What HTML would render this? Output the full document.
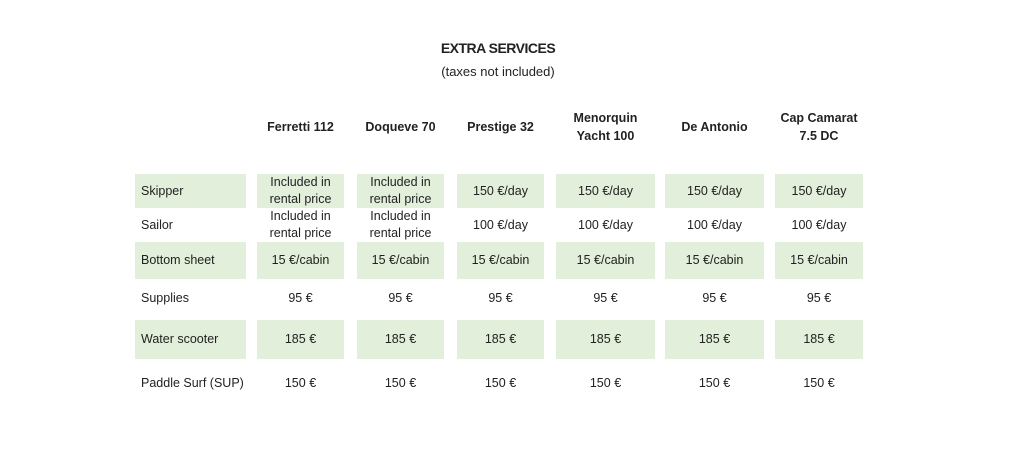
<!DOCTYPE html>
<html><head><meta charset="utf-8"><style>
body{margin:0;width:1024px;height:449px;background:#fff;font-family:"Liberation Sans",sans-serif;color:#222;position:relative;overflow:hidden}
.a{position:absolute;display:flex;align-items:center;justify-content:center;text-align:center;font-size:12.5px;line-height:17px}
.g{background:#e2efda}
.h{font-weight:bold;font-size:12.5px;line-height:18px}
.l{justify-content:flex-start;padding-left:6px;box-sizing:border-box}
</style></head><body>
<div class="a h" style="left:398px;top:38px;width:200px;height:20px;font-size:14px;letter-spacing:-0.5px">EXTRA SERVICES</div>
<div class="a" style="left:398px;top:62px;width:200px;height:18px;font-size:13px">(taxes not included)</div>
<div id="t"></div>
<script>
const cols=[[257,344],[357,444],[457,544],[556,655],[665,764],[775,863]];
const headers=["Ferretti 112","Doqueve 70","Prestige 32","Menorquin<br>Yacht 100","De Antonio","Cap Camarat<br>7.5 DC"];
const rows=[
 ["Skipper",174,208,true,["Included in<br>rental price","Included in<br>rental price","150 €/day","150 €/day","150 €/day","150 €/day"]],
 ["Sailor",208,242,false,["Included in<br>rental price","Included in<br>rental price","100 €/day","100 €/day","100 €/day","100 €/day"]],
 ["Bottom sheet",242,279,true,["15 €/cabin","15 €/cabin","15 €/cabin","15 €/cabin","15 €/cabin","15 €/cabin"]],
 ["Supplies",280,316,false,["95 €","95 €","95 €","95 €","95 €","95 €"]],
 ["Water scooter",320,359,true,["185 €","185 €","185 €","185 €","185 €","185 €"]],
 ["Paddle Surf (SUP)",366,400,false,["150 €","150 €","150 €","150 €","150 €","150 €"]]
];
const t=document.getElementById('t');
function box(x,y,w,h,cls,html){const d=document.createElement('div');d.className='a '+cls;d.style.cssText=`left:${x}px;top:${y}px;width:${w}px;height:${h}px`;d.innerHTML=html;t.appendChild(d);return d;}
headers.forEach((hd,i)=>{const d=box(cols[i][0]-5,107,cols[i][1]-cols[i][0]+10,40,'h',hd);

});
rows.forEach(r=>{const [lab,y0,y1,g,vals]=r;
const l=box(135,y0,111,y1-y0,'l'+(g?' g':''),lab);


vals.forEach((v,i)=>{const c=box(cols[i][0],y0,cols[i][1]-cols[i][0],y1-y0,g?'g':'',v);

});});
</script>
</body></html>
